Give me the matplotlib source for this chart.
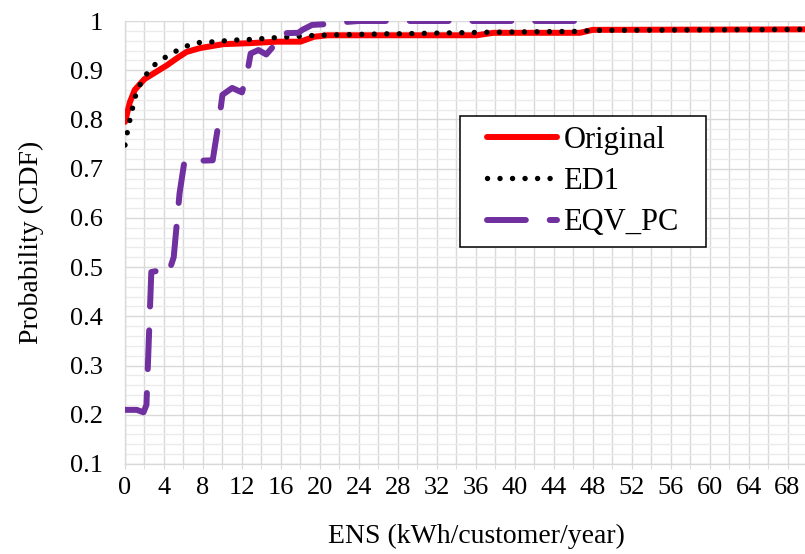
import matplotlib
matplotlib.use('Agg')
import matplotlib.pyplot as plt
from matplotlib.ticker import MultipleLocator, FuncFormatter
from matplotlib.patches import Rectangle

plt.rcParams['font.family'] = ['Liberation Serif', 'DejaVu Serif']

# ENS values (kWh/customer/year) and CDF values
orig_x = [0, 0.5, 1.0, 2.0, 2.9, 4.3, 5.3, 6.3, 7.7, 10.1, 12.8, 15.6, 18.0, 19.4, 20.8, 28.0, 36.1, 37.8, 46.7, 48.0, 70]
orig_y = [0.795, 0.835, 0.86, 0.882, 0.893, 0.91, 0.924, 0.937, 0.945, 0.953, 0.955, 0.958, 0.958, 0.968, 0.971, 0.971, 0.971, 0.976, 0.976, 0.982, 0.983]

ed1_x = [0, 0.23, 0.5, 0.75, 1.03, 1.47, 2.05, 2.9, 3.87, 4.96, 6.16, 7.4, 8.6, 9.8, 11.0, 12.2, 13.5, 14.5, 17.1, 19.7, 27.2, 28.2, 36.8, 46.9, 48.0, 70]
ed1_y = [0.748, 0.773, 0.799, 0.821, 0.845, 0.868, 0.888, 0.909, 0.923, 0.936, 0.948, 0.956, 0.957, 0.959, 0.961, 0.962, 0.963, 0.965, 0.968, 0.971, 0.974, 0.974, 0.977, 0.979, 0.981, 0.983]

eqv_x = [0, 1.2, 1.9, 2.2, 2.7, 3.5, 4.4, 5.0, 5.6, 6.1, 6.7, 7.4, 9.0, 9.7, 10.0, 11.0, 12.0, 12.5, 12.9, 13.7, 14.5, 15.2, 15.8, 17.8, 18.2, 19.2, 21.0, 22.0, 24.0, 30.0, 40.0, 48.0]
eqv_y = [0.21, 0.21, 0.205, 0.22, 0.49, 0.493, 0.484, 0.52, 0.65, 0.715, 0.722, 0.716, 0.717, 0.805, 0.85, 0.864, 0.855, 0.89, 0.934, 0.941, 0.932, 0.948, 0.975, 0.976, 0.982, 0.992, 0.994, 0.997, 1.0, 1.0, 1.0, 1.0]

grid_major = '#d9d9d9'
grid_minor = '#ebebeb'

fig = plt.figure(figsize=(8.05, 5.54), dpi=100)
ax = fig.add_axes([125/805, 90/554, 682/805, 443/554])

ax.plot(orig_x, orig_y, color='#ff0000', lw=4.3, solid_capstyle='round', solid_joinstyle='round', label='Original', zorder=3)
ax.plot(ed1_x, ed1_y, color='black', lw=3.9, linestyle=(0, (0.01, 2.3)), dash_capstyle='round', label='ED1', zorder=4)
ax.plot(eqv_x, eqv_y, color='#7030a0', lw=4.3, linestyle=(0, (6.5, 4)), dash_capstyle='round', dash_joinstyle='round', label='EQV_PC', zorder=5)

ax.set_xlim(0, 70)
ax.set_ylim(0.1, 1.0)

ax.xaxis.set_major_locator(MultipleLocator(4))
ax.xaxis.set_minor_locator(MultipleLocator(2))
ax.yaxis.set_major_locator(MultipleLocator(0.1))
ax.yaxis.set_minor_locator(MultipleLocator(0.02))
ax.yaxis.set_major_formatter(FuncFormatter(lambda v, p: '%g' % round(v, 2)))

ax.grid(which='major', axis='both', color=grid_major, lw=1.0, zorder=1)
ax.grid(which='minor', axis='x', color=grid_major, lw=1.0, zorder=1)
ax.grid(which='minor', axis='y', color=grid_minor, lw=1.0, zorder=0)
ax.set_axisbelow(True)

for s in ['top', 'right']:
    ax.spines[s].set_visible(False)
for s in ['left', 'bottom']:
    ax.spines[s].set_color(grid_major)
    ax.spines[s].set_linewidth(1.0)

ax.tick_params(axis='x', which='both', length=3.6, color=grid_major, direction='out')
ax.tick_params(axis='x', which='major', labelsize=19, pad=6)
ax.tick_params(axis='y', which='both', length=0, labelsize=19, pad=16)

ax.set_xlabel('ENS (kWh/customer/year)', fontsize=20)
ax.xaxis.set_label_coords(0.516, -0.134)
ax.set_ylabel('Probability (CDF)', fontsize=20)
ax.yaxis.set_label_coords(-0.119, 0.5)

# legend box
rect = Rectangle((460/805, 1 - 247/554), 246/805, 131/554, transform=fig.transFigure,
                 facecolor='white', edgecolor='black', lw=1.1, zorder=4)
fig.patches.append(rect)
handles, labels = ax.get_legend_handles_labels()
leg = fig.legend(handles, labels, loc='center', bbox_to_anchor=(583/805, 1 - 181.5/554),
                 bbox_transform=fig.transFigure, frameon=False, fontsize=22,
                 handlelength=2.29, handletextpad=0.2, labelspacing=0.4, borderpad=0)
leg.set_zorder(5)

plt.savefig('out.png', dpi=100)
